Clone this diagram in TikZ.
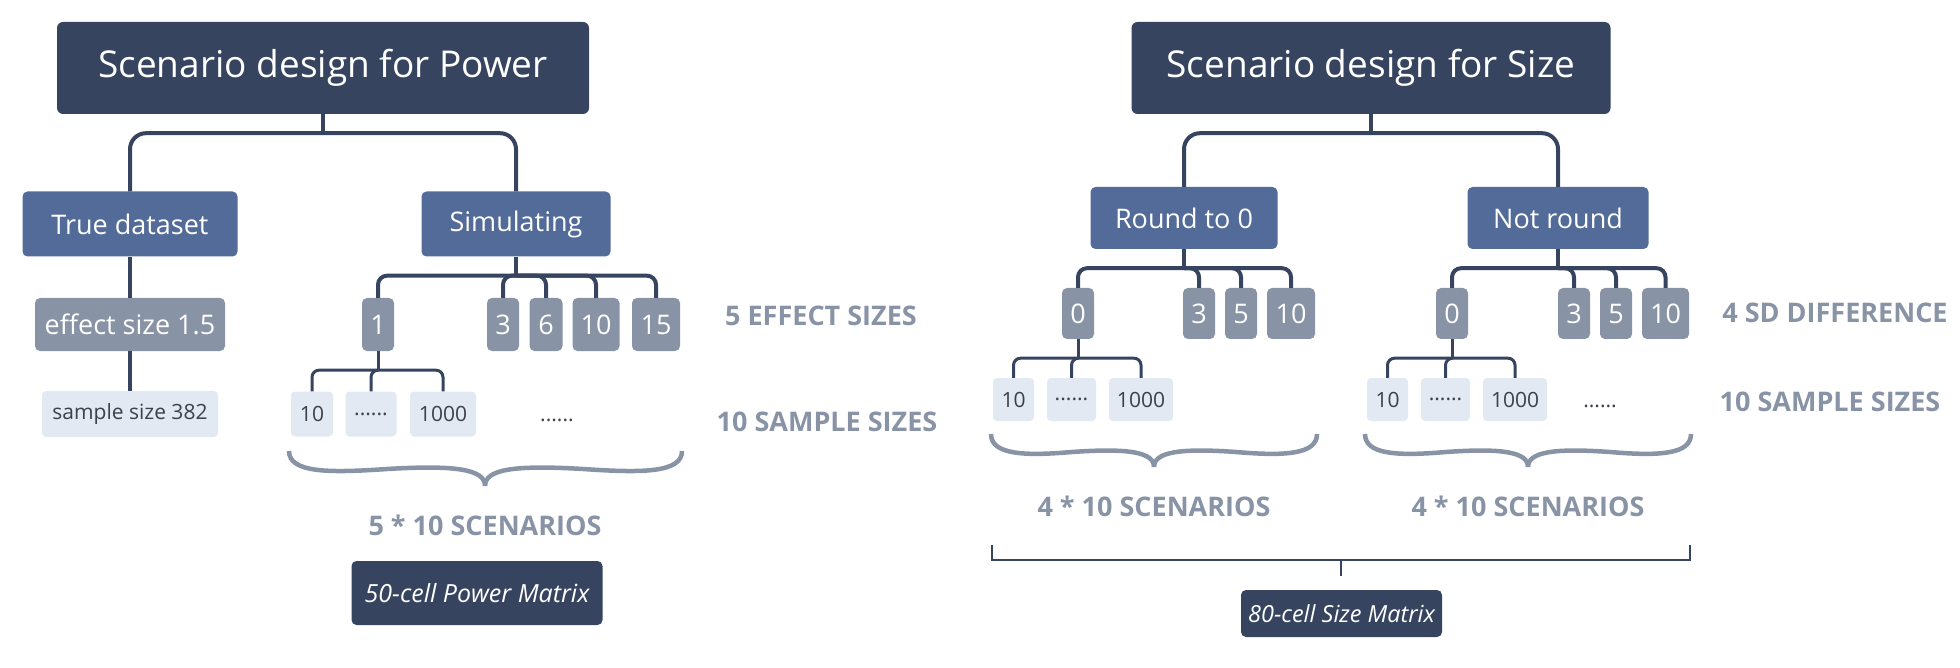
\documentclass[tikz,border=0pt]{standalone}
\usepackage{fontspec}
\setmainfont{Open Sans}
\usetikzlibrary{calc}

\definecolor{navy}{HTML}{36445F}
\definecolor{steel}{HTML}{536B98}
\definecolor{slate}{HTML}{8893A6}
\definecolor{pale}{HTML}{E3E9F2}
\definecolor{ink}{HTML}{3B404A}

\tikzset{
  headbox/.style={fill=navy, text=white, rounded corners=6pt, inner sep=0pt,
    minimum height=92pt, font=\fontsize{37}{44}\selectfont},
  midbox/.style={fill=steel, text=white, rounded corners=5pt, inner sep=0pt,
    font=\fontsize{27}{31}\selectfont},
  numbox/.style={fill=slate, text=white, rounded corners=5pt, inner sep=0pt,
    font=\fontsize{27}{31}\selectfont},
  leafbox/.style={fill=pale, text=ink, rounded corners=4pt, inner sep=0pt,
    font=\fontsize{21}{25}\selectfont},
  matbox/.style={fill=navy, text=white, rounded corners=5pt, inner sep=0pt,
    font=\itshape\fontsize{25}{30}\selectfont},
  tag/.style={text=slate, inner sep=0pt, font=\bfseries\fontsize{27}{31}\selectfont},
  conn/.style={draw=navy, line width=4pt, rounded corners=16pt},
  subconn/.style={draw=navy, line width=4pt, rounded corners=9pt},
  leafconn/.style={draw=navy, line width=3pt, rounded corners=7pt},
  curly/.style={draw=slate, line width=4.5pt},
}

\begin{document}
\begin{tikzpicture}[x=1pt, y=-1pt]
    \useasboundingbox (0,0) rectangle (1960,668);

    % power side
    \node[headbox, minimum width=532pt] (powhead) at (323,68) {Scenario design for Power};
    \node[midbox, minimum width=215pt, minimum height=65pt] (truedata) at (130,224) {True dataset};
    \node[midbox, minimum width=189pt, minimum height=65pt] (simul) at (516,224) {Simulating};
    \node[numbox, minimum width=190pt, minimum height=53pt] (eff) at (130,324.5) {effect size 1.5};
    \node[leafbox, minimum width=176pt, minimum height=46pt] (samp) at (130,414) {sample size 382};
    \node[numbox, minimum width=32pt, minimum height=53pt] (e1) at (378,324.5) {1};
    \node[numbox, minimum width=32pt, minimum height=53pt] (e3) at (503,324.5) {3};
    \node[numbox, minimum width=33pt, minimum height=53pt] (e6) at (546,324.5) {6};
    \node[numbox, minimum width=47pt, minimum height=53pt] (e10) at (596,324.5) {10};
    \node[numbox, minimum width=48pt, minimum height=53pt] (e15) at (656,324.5) {15};
    \node[leafbox, minimum width=42pt, minimum height=45pt] (s10) at (312,414) {10};
    \node[leafbox, minimum width=51pt, minimum height=45pt] (sdots) at (371,414) {......};
    \node[leafbox, minimum width=66pt, minimum height=45pt] (s1000) at (443,414) {1000};
    \node[text=ink, font=\fontsize{21}{25}\selectfont] (pdots) at (557,420) {......};
    \node[tag] (efftag) at (821,316) {5 EFFECT SIZES};
    \node[tag] (samptag) at (827,422) {10 SAMPLE SIZES};
    \node[tag] (powscen) at (485,525) {5 * 10 SCENARIOS};
    \node[matbox, minimum width=251pt, minimum height=64pt] (powmat) at (477,593) {50-cell Power Matrix};

    \coordinate (powj) at ($(powhead.south)+(0,19)$);
    \coordinate (simj) at ($(simul.south)+(0,19)$);
    \coordinate (e1j) at ($(e1.south)+(0,19)$);
    \draw [conn] (powhead.south) -- (powj);
    \draw [conn] (powj) -| (truedata.north);
    \draw [conn] (powj) -| (simul.north);
    \draw [conn] (truedata.south) -- (eff.north);
    \draw [conn] (eff.south) -- (samp.north);
    \draw [subconn] (simul.south) -- (simj);
    \draw [subconn] (simj) -| (e1.north);
    \draw [subconn] (simj) -| (e3.north);
    \draw [subconn] (simj) -| (e6.north);
    \draw [subconn] (simj) -| (e10.north);
    \draw [subconn] (simj) -| (e15.north);
    \draw [leafconn] (e1.south) -- (e1j);
    \draw [leafconn] (e1j) -| (s10.north);
    \draw [leafconn] (e1j) -| (sdots.north);
    \draw [leafconn] (e1j) -| (s1000.north);

    \draw [curly] (289,451) .. controls (289,473) and (329,473) .. (387,469)
        .. controls (455,465) and (485,469) .. (485,486);
    \draw [curly] (682,451) .. controls (682,473) and (642,473) .. (583,469)
        .. controls (515,465) and (485,469) .. (485,486);

    % size side
    \node[headbox, minimum width=479pt] (sizehead) at (1371,68) {Scenario design for Size};
    \node[midbox, minimum width=187pt, minimum height=62pt] (rnd) at (1184,218) {Round to 0};
    \node[midbox, minimum width=181pt, minimum height=62pt] (notrnd) at (1558,218) {Not round};
    \node[numbox, minimum width=32pt, minimum height=51pt] (r0) at (1078,313.5) {0};
    \node[numbox, minimum width=32pt, minimum height=51pt] (r3) at (1199,313.5) {3};
    \node[numbox, minimum width=32pt, minimum height=51pt] (r5) at (1241,313.5) {5};
    \node[numbox, minimum width=48pt, minimum height=51pt] (r10) at (1291,313.5) {10};
    \node[numbox, minimum width=32pt, minimum height=51pt] (n0) at (1452,313.5) {0};
    \node[numbox, minimum width=32pt, minimum height=51pt] (n3) at (1574,313.5) {3};
    \node[numbox, minimum width=32pt, minimum height=51pt] (n5) at (1616,313.5) {5};
    \node[numbox, minimum width=47pt, minimum height=51pt] (n10) at (1665.5,313.5) {10};
    \node[leafbox, minimum width=41pt, minimum height=43pt] (rs10) at (1013.5,399.5) {10};
    \node[leafbox, minimum width=49pt, minimum height=43pt] (rsdots) at (1071.5,399.5) {......};
    \node[leafbox, minimum width=64pt, minimum height=43pt] (rs1000) at (1141,399.5) {1000};
    \node[leafbox, minimum width=41pt, minimum height=43pt] (ns10) at (1387.5,399.5) {10};
    \node[leafbox, minimum width=49pt, minimum height=43pt] (nsdots) at (1445.5,399.5) {......};
    \node[leafbox, minimum width=64pt, minimum height=43pt] (ns1000) at (1515,399.5) {1000};
    \node[text=ink, font=\fontsize{21}{25}\selectfont] (sizedots) at (1600,406) {......};
    \node[tag] (sdtag) at (1835,313) {4 SD DIFFERENCE};
    \node[tag] (sizesamptag) at (1830,402) {10 SAMPLE SIZES};
    \node[tag] (rndscen) at (1154,506) {4 * 10 SCENARIOS};
    \node[tag] (notscen) at (1528,506) {4 * 10 SCENARIOS};
    \node[matbox, minimum width=201pt, minimum height=47pt, font=\itshape\fontsize{23.5}{28}\selectfont] (sizemat) at (1341.5,613.5) {80-cell Size Matrix};

    \coordinate (sizej) at ($(sizehead.south)+(0,19)$);
    \coordinate (rndj) at ($(rnd.south)+(0,19)$);
    \coordinate (notj) at ($(notrnd.south)+(0,19)$);
    \coordinate (r0j) at ($(r0.south)+(0,19)$);
    \coordinate (n0j) at ($(n0.south)+(0,19)$);
    \draw [conn] (sizehead.south) -- (sizej);
    \draw [conn] (sizej) -| (rnd.north);
    \draw [conn] (sizej) -| (notrnd.north);
    \draw [subconn] (rnd.south) -- (rndj);
    \draw [subconn] (rndj) -| (r0.north);
    \draw [subconn] (rndj) -| (r3.north);
    \draw [subconn] (rndj) -| (r5.north);
    \draw [subconn] (rndj) -| (r10.north);
    \draw [subconn] (notrnd.south) -- (notj);
    \draw [subconn] (notj) -| (n0.north);
    \draw [subconn] (notj) -| (n3.north);
    \draw [subconn] (notj) -| (n5.north);
    \draw [subconn] (notj) -| (n10.north);
    \draw [leafconn] (r0.south) -- (r0j);
    \draw [leafconn] (r0j) -| (rs10.north);
    \draw [leafconn] (r0j) -| (rsdots.north);
    \draw [leafconn] (r0j) -| (rs1000.north);
    \draw [leafconn] (n0.south) -- (n0j);
    \draw [leafconn] (n0j) -| (ns10.north);
    \draw [leafconn] (n0j) -| (nsdots.north);
    \draw [leafconn] (n0j) -| (ns1000.north);

    \draw [curly] (991,434) .. controls (991,455) and (1025,456) .. (1072,452)
        .. controls (1128,448) and (1154,452) .. (1154,467);
    \draw [curly] (1317,434) .. controls (1317,455) and (1283,456) .. (1236,452)
        .. controls (1180,448) and (1154,452) .. (1154,467);
    \draw [curly] (1365,434) .. controls (1365,455) and (1399,456) .. (1446,452)
        .. controls (1502,448) and (1528,452) .. (1528,467);
    \draw [curly] (1691,434) .. controls (1691,455) and (1657,456) .. (1610,452)
        .. controls (1554,448) and (1528,452) .. (1528,467);

    \draw [navy, line width=2.5pt] (992,545) -- (992,560) -- (1690,560) -- (1690,545);
    \draw [navy, line width=2.5pt] (1341,560) -- (1341,576);
\end{tikzpicture}
\end{document}
